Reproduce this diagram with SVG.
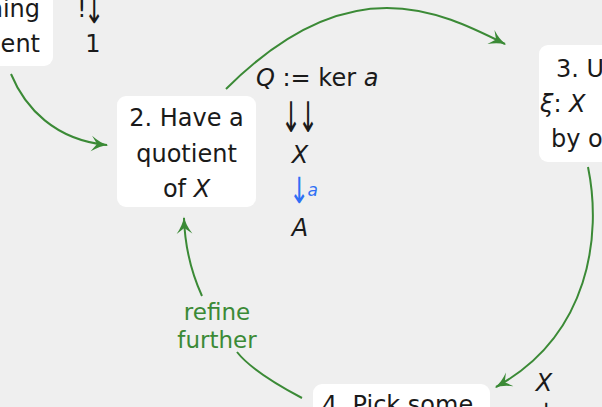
<svg xmlns="http://www.w3.org/2000/svg" width="602" height="407" viewBox="0 0 602 407">
<defs>
<style>
.bg{fill:#efefef}
.box{fill:#ffffff}
.t{font-family:"DejaVu Sans",sans-serif;font-size:24px;fill:#1a1a1a}
.c{text-anchor:middle}
.i{font-style:italic}
.edge{fill:none;stroke:#3b8a36;stroke-width:2}
.lbl{font-family:"DejaVu Sans",sans-serif;font-size:23px;fill:#3b8a36;text-anchor:middle}
.blue{fill:#2f6ff5}
</style>
<marker id="ah" markerUnits="userSpaceOnUse" markerWidth="20" markerHeight="20" viewBox="-12 -7 14 14" refX="0" refY="0" orient="auto">
<path d="M-11,-5.5 Q-5,-1 1,0 Q-5,1 -11,5.5 L-7,0 Z" fill="#3b8a36"/>
</marker>
</defs>
<rect class="bg" x="0" y="0" width="602" height="407"/>
<g id="node1">
<rect class="box" x="-20" y="-20" width="73" height="86" rx="9"/>
<text class="t" x="40" y="17" text-anchor="end">hing</text>
<text class="t" x="40" y="52" text-anchor="end">tient</text>
</g>
<g id="map1">
<text class="t" x="77" y="17">!</text>
<text class="t c" x="0" y="0" transform="translate(94,23) scale(1,1.5)">↓</text>
<text class="t c" x="93" y="52">1</text>
</g>
<g id="node2">
<rect class="box" x="117" y="96" width="139" height="111" rx="9"/>
<text class="t c" x="186.5" y="126">2. Have a</text>
<text class="t c" x="186.5" y="161.5">quotient</text>
<text class="t c" x="186.5" y="197">of <tspan class="i">X</tspan></text>
</g>
<g id="map2">
<text class="t" x="256" y="86"><tspan class="i">Q</tspan> := ker <tspan class="i">a</tspan></text>
<text class="t" x="0" y="0" transform="translate(281,132) scale(1,1.75)" letter-spacing="-3">↓↓</text>
<text class="t c i" x="300" y="163">X</text>
<text class="t c blue" x="0" y="0" transform="translate(299,203) scale(1,1.5)">↓</text>
<text class="t i blue" x="307.5" y="196" style="font-size:17px">a</text>
<text class="t c i" x="300" y="236">A</text>
</g>
<g id="node3">
<rect class="box" x="539" y="45" width="90" height="117" rx="9"/>
<text class="t" x="556" y="77">3. U</text>
<text class="t" x="540" y="112"><tspan class="i">ξ</tspan>: <tspan class="i">X</tspan></text>
<text class="t" x="551" y="147">by o</text>
</g>
<g id="node4">
<rect class="box" x="313" y="384" width="177" height="60" rx="9"/>
<text class="t" x="322" y="413">4. Pick some</text>
</g>
<g id="map4">
<text class="t c i" x="544" y="391">X</text>
<text class="t c" x="0" y="0" transform="translate(546,429) scale(1,1.5)">↓</text>
</g>
<g id="connectors">
<path class="edge" d="M11,74 C25,108 55,140 107,145" marker-end="url(#ah)"/>
<path class="edge" d="M226,89 C349,-34 439,11 505,44" marker-end="url(#ah)"/>
<path class="edge" d="M588,167 C602,235 590,335 496,387" marker-end="url(#ah)"/>
<path class="edge" d="M302,398 C268,380 248,366 237,352"/>
<path class="edge" d="M202,296 C192,274 185,250 184,218" marker-end="url(#ah)"/>
<text class="lbl" x="217" y="320">refine</text>
<text class="lbl" x="217" y="348">further</text>
</g>
</svg>
